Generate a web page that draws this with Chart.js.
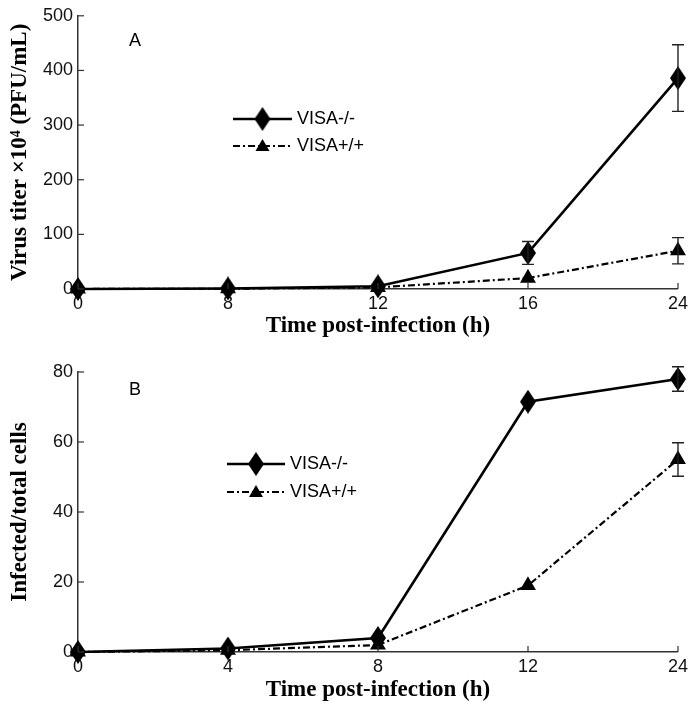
<!DOCTYPE html>
<html>
<head>
<meta charset="utf-8">
<script src="https://cdn.jsdelivr.net/npm/chart.js@4.4.0/dist/chart.umd.min.js"></script>
<style>
  html, body { margin: 0; padding: 0; background: #fff; }
  #wrapA { position: absolute; left: 0; top: 0; width: 692px; height: 355px; }
  #wrapB { position: absolute; left: 0; top: 355px; width: 692px; height: 354px; }
</style>
</head>
<body>
<div id="wrapA"><canvas id="chartA"></canvas></div>
<div id="wrapB"><canvas id="chartB"></canvas></div>
<script>
// Panel A - virus titer
const timesA = ['0', '8', '12', '16', '24'];
const titerKO = [0, 1, 5, 66, 386];
const titerKOErr = [0, 0, 0, 21, 61];
const titerWT = [0, 0.5, 3, 20, 70];
const titerWTErr = [0, 0, 0, 0, 24];

// Panel B - infected cells
const timesB = ['0', '4', '8', '12', '24'];
const infKO = [0, 1, 4, 71.5, 78];
const infKOErr = [0, 0, 0, 0, 3.5];
const infWT = [0, 0.5, 2, 19, 55];
const infWTErr = [0, 0, 0, 0, 4.8];

const seriesNames = ['VISA-/-', 'VISA+/+'];

const tickFont = { family: 'Liberation Sans', size: 18 };
const titleFont = { family: 'Liberation Serif', size: 23, weight: 'bold' };
const dashDot = [7, 3, 2, 3];

const makeDiamond = (w, h) => {
    const c = document.createElement('canvas');
    c.width = w;
    c.height = h;
    const g = c.getContext('2d');
    g.fillStyle = '#000';
    g.beginPath();
    g.moveTo(w / 2, 0);
    g.lineTo(w, h / 2);
    g.lineTo(w / 2, h);
    g.lineTo(0, h / 2);
    g.closePath();
    g.fill();
    return c;
};
const diamond = makeDiamond(16, 24);

// error bars, inward ticks, legend and panel letter
const extras = {
    id: 'extras',
    afterDatasetsDraw(chart) {
        const ctx = chart.ctx;
        const { x, y } = chart.scales;
        const area = chart.chartArea;
        const o = chart.options.plugins.extras;
        ctx.save();
        // error bars
        ctx.strokeStyle = '#222';
        ctx.lineWidth = 1.4;
        chart.data.datasets.forEach(ds => {
            ds.data.forEach((v, i) => {
                const e = ds.errors[i];
                if (!e) return;
                const px = x.getPixelForValue(i);
                const top = y.getPixelForValue(v + e);
                const bot = y.getPixelForValue(v - e);
                ctx.beginPath();
                ctx.moveTo(px, top); ctx.lineTo(px, bot);
                ctx.moveTo(px - 6, top); ctx.lineTo(px + 6, top);
                ctx.moveTo(px - 6, bot); ctx.lineTo(px + 6, bot);
                ctx.stroke();
            });
        });
        // inward ticks
        ctx.strokeStyle = '#333';
        ctx.lineWidth = 1.2;
        y.ticks.forEach(t => {
            const py = y.getPixelForValue(t.value);
            ctx.beginPath();
            ctx.moveTo(area.left, py); ctx.lineTo(area.left + 6, py);
            ctx.stroke();
        });
        x.ticks.forEach((t, i) => {
            const px = x.getPixelForValue(i);
            ctx.beginPath();
            ctx.moveTo(px, area.bottom); ctx.lineTo(px, area.bottom - 6);
            ctx.stroke();
        });
        // panel letter
        ctx.fillStyle = '#000';
        ctx.font = '18px "Liberation Sans"';
        ctx.textAlign = 'center';
        ctx.textBaseline = 'middle';
        ctx.fillText(o.letter, o.letterX, o.letterY);
        // legend
        const lg = o.legend;
        const mid = (lg.x0 + lg.x1) / 2;
        ctx.strokeStyle = '#000';
        ctx.lineWidth = 2.6;
        ctx.beginPath();
        ctx.moveTo(lg.x0, lg.y1); ctx.lineTo(lg.x1, lg.y1);
        ctx.stroke();
        ctx.drawImage(diamond, mid - diamond.width / 2, lg.y1 - diamond.height / 2);
        ctx.setLineDash(dashDot);
        ctx.lineWidth = 2.2;
        ctx.beginPath();
        ctx.moveTo(lg.x0, lg.y2); ctx.lineTo(lg.x1, lg.y2);
        ctx.stroke();
        ctx.setLineDash([]);
        ctx.beginPath();
        ctx.moveTo(mid, lg.y2 - 7);
        ctx.lineTo(mid + 7, lg.y2 + 5);
        ctx.lineTo(mid - 7, lg.y2 + 5);
        ctx.closePath();
        ctx.fill();
        ctx.textAlign = 'left';
        ctx.fillText(seriesNames[0], lg.x1 + 5, lg.y1);
        ctx.fillText(seriesNames[1], lg.x1 + 5, lg.y2);
        ctx.restore();
    }
};

const makePanel = (id, cfg) => {
    new Chart(document.getElementById(id), {
        type: 'line',
        data: {
            labels: cfg.labels,
            datasets: [{
                label: seriesNames[0],
                data: cfg.ko,
                errors: cfg.koErr,
                borderColor: '#000',
                borderWidth: 2.6,
                pointStyle: diamond,
                clip: false
            }, {
                label: seriesNames[1],
                data: cfg.wt,
                errors: cfg.wtErr,
                borderColor: '#000',
                borderWidth: 2.2,
                borderDash: dashDot,
                pointStyle: 'triangle',
                pointRadius: 7,
                pointBackgroundColor: '#000',
                pointBorderColor: '#000',
                clip: false
            }]
        },
        options: {
            responsive: true,
            maintainAspectRatio: false,
            animation: false,
            layout: { padding: { top: cfg.padTop, right: 14, left: 0, bottom: 0 } },
            plugins: {
                legend: { display: false },
                tooltip: { enabled: false },
                extras: { letter: cfg.letter, letterX: 135, letterY: cfg.letterY, legend: cfg.legend }
            },
            scales: {
                x: {
                    type: 'category',
                    offset: false,
                    grid: { display: false, drawTicks: false },
                    border: { display: true, color: '#333', width: 1.5 },
                    ticks: { font: tickFont, color: '#111', padding: 4, maxRotation: 0 },
                    title: { display: true, text: 'Time post-infection (h)', font: titleFont, color: '#000',
                             padding: { top: 0, bottom: cfg.xTitlePad } },
                    afterFit: s => { s.height = cfg.xHeight; }
                },
                y: {
                    min: 0,
                    max: cfg.yMax,
                    grid: { display: false, drawTicks: false },
                    border: { display: true, color: '#333', width: 1.5 },
                    ticks: { font: tickFont, color: '#111', padding: 5, stepSize: cfg.yStep },
                    title: { display: true, text: cfg.yTitle, font: titleFont, color: '#000',
                             padding: { top: 6, bottom: 0 } },
                    afterFit: s => { s.width = 78; }
                }
            }
        },
        plugins: [extras]
    });
};

makePanel('chartA', {
    labels: timesA, ko: titerKO, koErr: titerKOErr, wt: titerWT, wtErr: titerWTErr,
    yMax: 500, yStep: 100, yTitle: 'Virus titer ×10⁴ (PFU/mL)',
    padTop: 12, xHeight: 66, xTitlePad: 15,
    letter: 'A', letterY: 41,
    legend: { x0: 233, x1: 292, y1: 119, y2: 146 }
});

makePanel('chartB', {
    labels: timesB, ko: infKO, koErr: infKOErr, wt: infWT, wtErr: infWTErr,
    yMax: 80, yStep: 20, yTitle: 'Infected/total cells',
    padTop: 17, xHeight: 57, xTitlePad: 5,
    letter: 'B', letterY: 35,
    legend: { x0: 227, x1: 285, y1: 109, y2: 137 }
});
</script>
</body>
</html>
